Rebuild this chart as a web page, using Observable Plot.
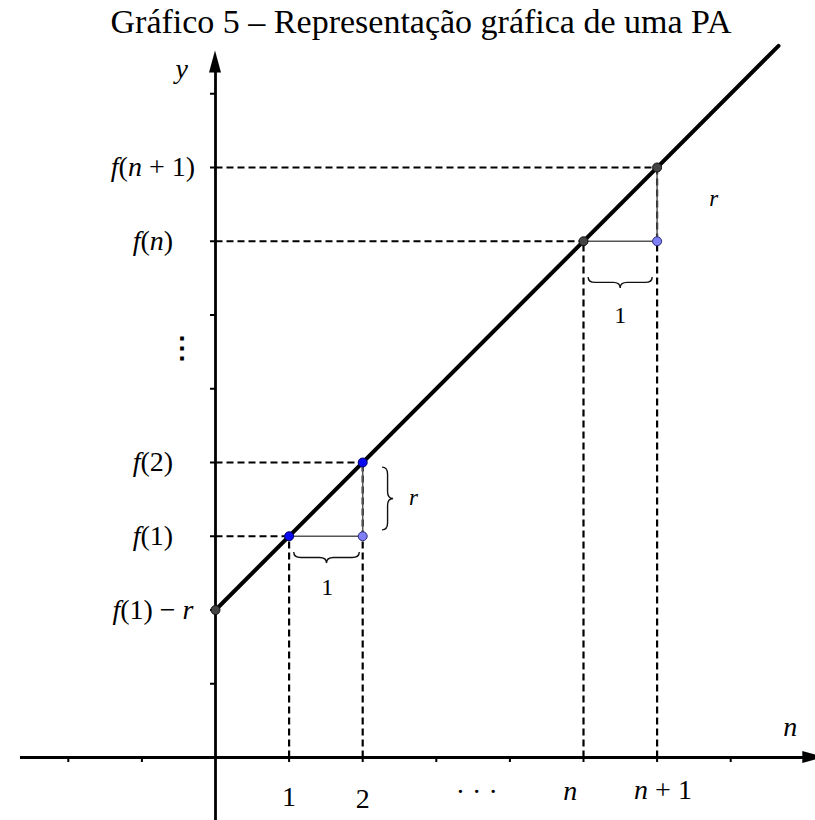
<!DOCTYPE html>
<html>
<head>
<meta charset="utf-8">
<script src="https://cdn.jsdelivr.net/npm/d3@7"></script>
<script src="https://cdn.jsdelivr.net/npm/@observablehq/plot@0.6"></script>
<style>
  html, body { margin: 0; padding: 0; background: #fff; }
  #title {
    box-sizing: border-box;
    height: 40px;
    padding: 3px 0 0 27px;
    line-height: 37px;
    font-family: "Liberation Serif", "DejaVu Serif", serif;
    font-size: 34px;
    text-align: center;
    color: #000;
    white-space: nowrap;
    overflow: visible;
  }
  #chart svg { display: block; }
</style>
</head>
<body>
<div id="title">Gráfico 5 – Representação gráfica de uma PA</div>
<div id="chart"></div>
<script>
// Terms of the arithmetic progression shown on the line f(n) = f(1) + (n − 1)·r
const termX = [1, 2, 5, 6];          // n, for 1, 2, n, n + 1
const termY = [3, 4, 7, 8];          // f(1), f(2), f(n), f(n + 1)
const startX = 0;                    // point (0, f(1) − r)
const startY = 2;
const lineEndX = 7.65;               // where the drawn line leaves the frame
const lineEndY = 9.65;

// step corners (n + 1, f(n)) completing each unit step
const stepX = [2, 6];
const stepY = [3, 7];
const stepFromX = [1, 5];
const stepToY = [4, 8];

// axis ticks and tick labels
const xTicks = [-2, -1, 1, 2, 3, 4, 5, 6, 7];
const yTicks = [1, 2, 3, 4, 5, 6, 7, 8, 9];
const xTickLabels = ["1", "2", "· · ·", "n", "n + 1"];
const xTickLabelAt = [1, 2, 3.55, 4.82, 6.08];
const xTickLabelY = [-0.54, -0.56, -0.47, -0.45, -0.44];
const yTickLabels = ["f(1) − r", "f(1)", "f(2)", "f(n)", "f(n + 1)"];
const yTickLabelAt = [2, 3, 4, 7, 8];

// frame: one unit is about 73.6 px across and 73.75 px up
const W = 815, H = 780;
const UX = 73.6, UY = 73.75, X0 = 215, Y0 = 717;
const xDomain = [-X0 / UX, (W - X0) / UX];
const yDomain = [(Y0 - H) / UY, Y0 / UY];

const serif = "Liberation Serif";
const points = [
  {x: startX, y: startY, kind: "anchor"},
  ...termX.map((x, i) => ({x, y: termY[i], kind: i < 2 ? "term" : "anchor"})),
  ...stepX.map((x, i) => ({x, y: stepY[i], kind: "step"}))
];
const guides = termX.map((x, i) => ({x, y: termY[i]}));
const steps = stepX.flatMap((x, i) => [
  {x1: stepFromX[i], y1: stepY[i], x2: x, y2: stepY[i]},
  {x1: x, y1: stepY[i], x2: x, y2: stepToY[i]}
]);
const xLabels = xTickLabels.map((t, i) => ({t, x: xTickLabelAt[i], y: xTickLabelY[i]}));
const yLabels = yTickLabels.map((t, i) => ({t, y: yTickLabelAt[i]}));

// curly braces: horizontal ones open upward, the vertical one opens to the left
const hBraces = [{x1: 1.07, x2: 1.96, y: 2.78}, {x1: 5.07, x2: 5.94, y: 6.51}];
const vBraces = [{x: 2.27, y1: 3.93, y2: 3.08}];
const braceMarks = (index, {x, y}) => {
  const g = d3.create("svg:g")
    .attr("fill", "none").attr("stroke", "#111").attr("stroke-width", 1.4);
  const d = 11, h = d / 2, c = 7;
  for (const b of hBraces) {
    const a = x(b.x1), e = x(b.x2), m = (a + e) / 2, t = y(b.y);
    g.append("path").attr("d",
      `M${a},${t} Q${a},${t + h} ${a + c},${t + h} L${m - c},${t + h} ` +
      `Q${m},${t + h} ${m},${t + d} Q${m},${t + h} ${m + c},${t + h} ` +
      `L${e - c},${t + h} Q${e},${t + h} ${e},${t}`);
  }
  for (const b of vBraces) {
    const l = x(b.x), a = y(b.y1), e = y(b.y2), m = (a + e) / 2, w = 11, k = w / 2;
    g.append("path").attr("d",
      `M${l},${a} Q${l + k},${a} ${l + k},${a + c} L${l + k},${m - c} ` +
      `Q${l + k},${m} ${l + w},${m} Q${l + k},${m} ${l + k},${m + c} ` +
      `L${l + k},${e - c} Q${l + k},${e} ${l},${e}`);
  }
  return g.node();
};

// filled arrowheads at the positive ends of both axes
const arrowHeads = (index, {x, y}) => {
  const g = d3.create("svg:g").attr("fill", "#000");
  const ax = x(7.98), ay = y(0), len = 22, half = 6;
  g.append("path").attr("d", `M${ax},${ay - half} L${ax + len},${ay} L${ax},${ay + half} Z`);
  const bx = x(0), by = y(9.28);
  g.append("path").attr("d", `M${bx - half},${by} L${bx},${by - len} L${bx + half},${by} Z`);
  return g.node();
};

const plot = Plot.plot({
  width: W,
  height: H,
  margin: 0,
  x: {domain: xDomain, axis: null},
  y: {domain: yDomain, axis: null},
  style: {background: "#fff", color: "#000"},
  marks: [
    // dashed guides from the axes to each term
    Plot.link(guides, {x1: 0, y1: "y", x2: "x", y2: "y", stroke: "#000", strokeWidth: 2.2, strokeDasharray: "7,4"}),
    Plot.link(guides, {x1: "x", y1: 0, x2: "x", y2: "y", stroke: "#000", strokeWidth: 2.2, strokeDasharray: "7,4"}),
    // unit steps
    Plot.link(steps, {x1: "x1", y1: "y1", x2: "x2", y2: "y2", stroke: "#555", strokeWidth: 1.5}),
    // axes
    Plot.ruleY([0], {x1: -2.65, x2: 7.99, stroke: "#000", strokeWidth: 2.8}),
    Plot.ruleX([0], {y1: yDomain[0], y2: 9.29, stroke: "#000", strokeWidth: 2.8}),
    Plot.ruleX(xTicks, {y1: 0, y2: 0, insetBottom: -5, stroke: "#000", strokeWidth: 2}),
    Plot.ruleY(yTicks, {x1: 0, x2: 0, insetLeft: -5, stroke: "#000", strokeWidth: 2}),
    arrowHeads,
    // the progression's line
    Plot.line([[startX, startY], [lineEndX, lineEndY]], {stroke: "#000", strokeWidth: 4}),
    braceMarks,
    // points
    Plot.dot(points, {filter: d => d.kind === "anchor", x: "x", y: "y", r: 4.5, fill: "#444", stroke: "#111", strokeWidth: 1}),
    Plot.dot(points, {filter: d => d.kind === "term", x: "x", y: "y", r: 4.5, fill: "#0a0af0", stroke: "#00006a", strokeWidth: 1}),
    Plot.dot(points, {filter: d => d.kind === "step", x: "x", y: "y", r: 4.5, fill: "#7f7ff6", stroke: "#2c2c7a", strokeWidth: 1}),
    // labels
    Plot.text(xLabels, {x: "x", y: "y", text: "t", fontFamily: serif, fontSize: 28, fill: "#000"}),
    Plot.text(yLabels, {x: -0.85, y: "y", text: "t", fontFamily: serif, fontSize: 28, fill: "#000"}),
    Plot.text(["⋮"], {x: -0.45, y: 5.55, text: d => d, fontFamily: "DejaVu Serif", fontSize: 28, fontWeight: "bold", fill: "#000"}),
    Plot.text(["y"], {x: -0.46, y: 9.34, text: d => d, fontFamily: serif, fontSize: 28, fill: "#000"}),
    Plot.text(["n"], {x: 7.81, y: 0.41, text: d => d, fontFamily: serif, fontSize: 28, fill: "#000"}),
    Plot.text(["1", "1"], {x: [1.52, 5.5], y: [2.31, 6.0], text: d => d, fontFamily: serif, fontSize: 24, fill: "#000"}),
    Plot.text(["r", "r"], {x: [2.69, 6.77], y: [3.53, 7.58], text: d => d, fontFamily: serif, fontSize: 23, fill: "#000"})
  ]
});

// math letters in italic, digits and symbols upright
d3.select(plot).selectAll("text").each(function () {
  const s = this.textContent;
  if (!/[a-z]/.test(s)) return;
  const el = d3.select(this);
  el.text(null);
  for (const part of s.split(/([a-z]+)/)) {
    if (!part) continue;
    el.append("tspan").attr("font-style", /^[a-z]+$/.test(part) ? "italic" : null)
      .attr("xml:space", "preserve").text(part);
  }
});

document.getElementById("chart").appendChild(plot);
</script>
</body>
</html>
